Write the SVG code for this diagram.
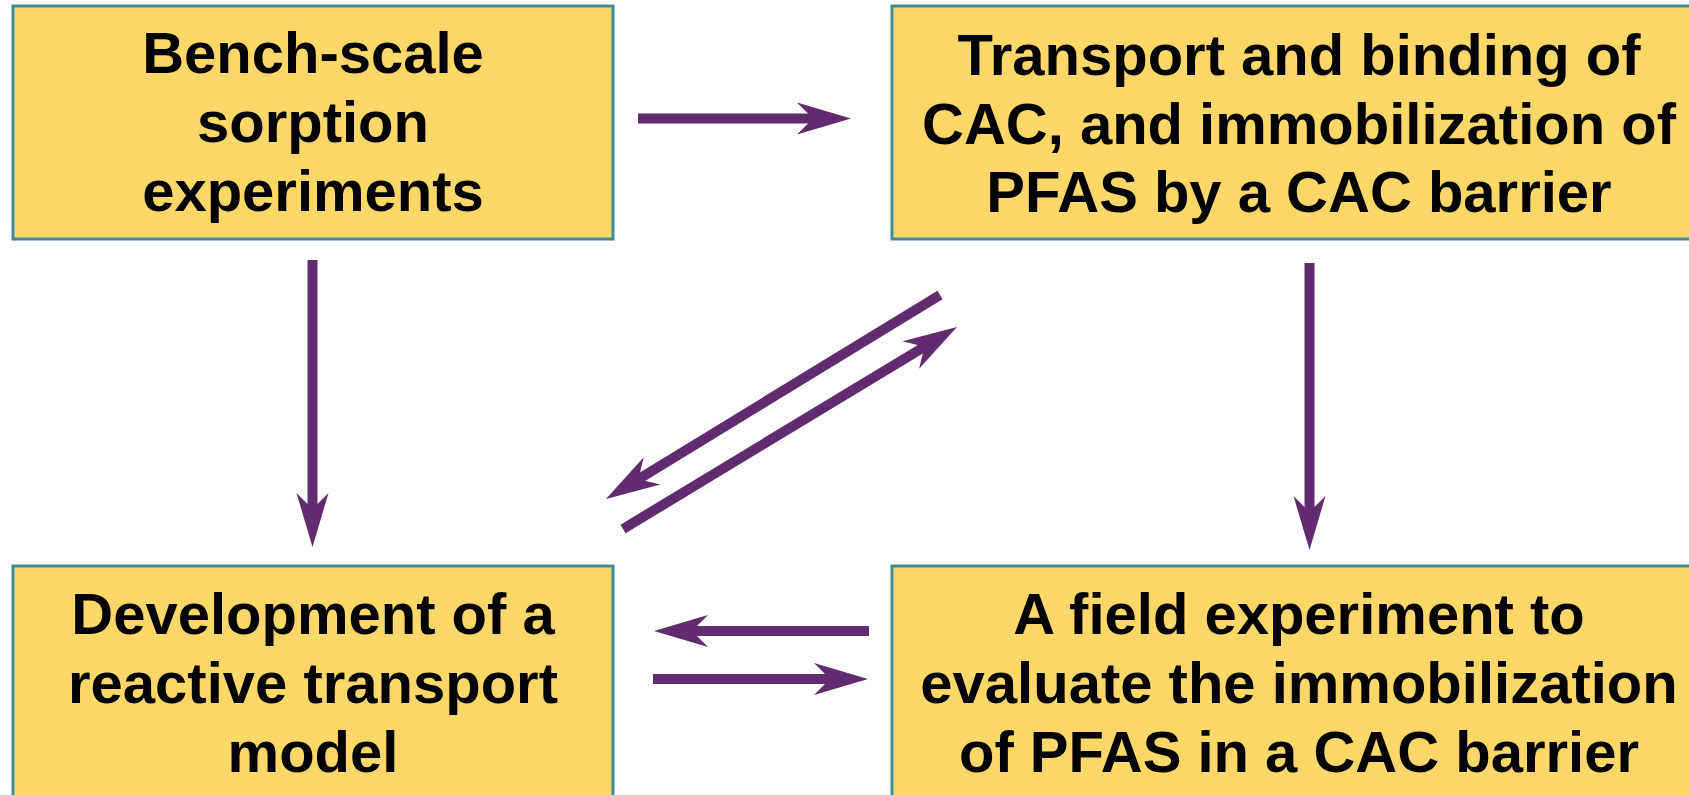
<svg xmlns="http://www.w3.org/2000/svg" width="1689" height="795" viewBox="0 0 1689 795">
  <style>
    .box { fill: #FDD868; stroke: #3E8A9E; stroke-width: 3; }
    .lbl { font-family: "Liberation Sans", Arial, sans-serif; font-weight: bold; font-size: 58px; fill: #000; text-anchor: middle; }
    .conn { stroke: #622A6F; stroke-width: 10; fill: none; stroke-linecap: butt; marker-end: url(#head); }
  </style>
  <defs>
    <marker id="head" markerUnits="userSpaceOnUse" markerWidth="60" markerHeight="40" refX="16" refY="0" orient="auto" overflow="visible">
      <path d="M0,-16 L54,0 L0,16 L16,0 Z" fill="#622A6F"/>
    </marker>
  </defs>
  <rect width="1689" height="795" fill="#fff"/>

  <g id="node-bench">
    <rect class="box" x="13" y="6" width="600" height="233"/>
    <text class="lbl" x="313" y="73">Bench-scale</text>
    <text class="lbl" x="313" y="142">sorption</text>
    <text class="lbl" x="313" y="211">experiments</text>
  </g>

  <g id="node-transport">
    <rect class="box" x="892" y="6" width="820" height="233"/>
    <text class="lbl" x="1299" y="75">Transport and binding of</text>
    <text class="lbl" x="1299" y="144">CAC, and immobilization of</text>
    <text class="lbl" x="1299" y="212">PFAS by a CAC barrier</text>
  </g>

  <g id="node-model">
    <rect class="box" x="13" y="566" width="600" height="240"/>
    <text class="lbl" x="313" y="634">Development of a</text>
    <text class="lbl" x="313" y="703">reactive transport</text>
    <text class="lbl" x="313" y="772">model</text>
  </g>

  <g id="node-field">
    <rect class="box" x="892" y="566" width="820" height="240"/>
    <text class="lbl" x="1299" y="634">A field experiment to</text>
    <text class="lbl" x="1299" y="703">evaluate the immobilization</text>
    <text class="lbl" x="1299" y="772">of PFAS in a CAC barrier</text>
  </g>

  <g id="connectors">
    <line class="conn" x1="638" y1="118.5" x2="813" y2="118.5"/>
    <line class="conn" x1="312.5" y1="260" x2="312.5" y2="509"/>
    <line class="conn" x1="1309.5" y1="263" x2="1309.5" y2="512"/>
    <line class="conn" x1="940" y1="295" x2="638.4" y2="479.2"/>
    <line class="conn" x1="623" y1="529" x2="924.5" y2="346.7"/>
    <line class="conn" x1="869" y1="631" x2="692" y2="631"/>
    <line class="conn" x1="653" y1="679" x2="830" y2="679"/>
  </g>
</svg>
